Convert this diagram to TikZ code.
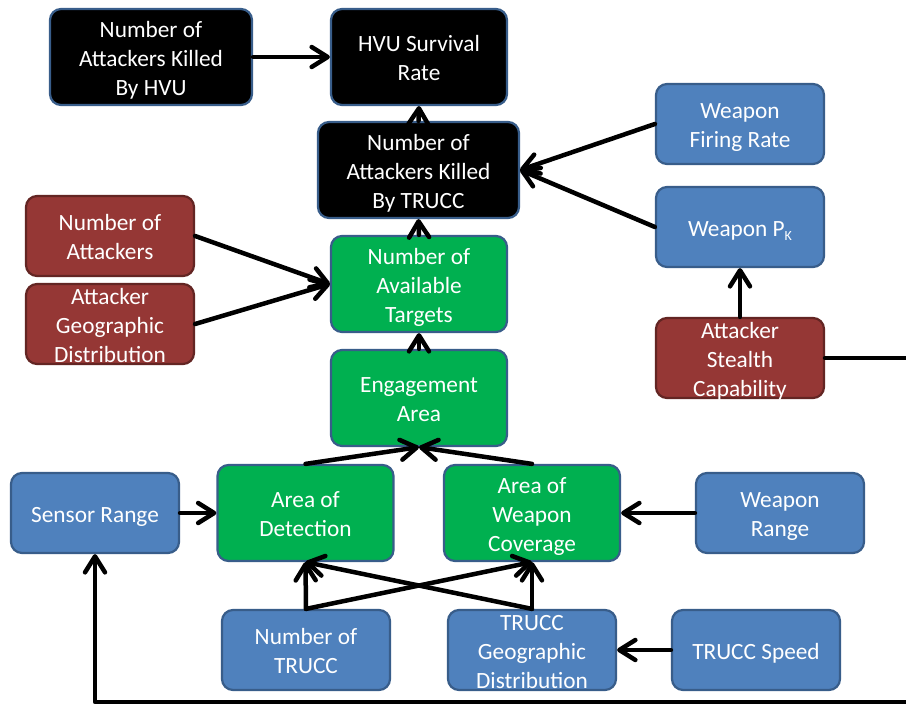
\documentclass[tikz,border=0pt]{standalone}
\usepackage{fontspec}
\setmainfont{Carlito}
\usetikzlibrary{arrows.meta}
\definecolor{boxblue}{HTML}{4F81BD}
\definecolor{edgeblue}{HTML}{385D8A}
\definecolor{boxred}{HTML}{953735}
\definecolor{edgered}{HTML}{632523}
\definecolor{boxgreen}{HTML}{00B050}
% centred text block with full-strut line spacing; it takes no room of its own,
% so every box keeps the size it is given
\newcommand\lbl[1]{\raisebox{-9.5pt}[0pt][0pt]{\begin{tabular}{@{}c@{}}#1\end{tabular}}}
\begin{document}
\begin{tikzpicture}[x=1pt,y=-1pt,
  box/.style={rounded corners=11pt, line width=2.2pt, text=white,
    inner sep=0pt, font=\fontsize{23.3}{29}\selectfont},
  bluebox/.style={box, fill=boxblue, draw=edgeblue, minimum width=168pt, minimum height=80pt},
  redbox/.style={box, fill=boxred, draw=edgered, minimum width=168pt, minimum height=80pt},
  greenbox/.style={box, fill=boxgreen, draw=edgeblue, minimum width=176pt, minimum height=96pt},
  blackbox/.style={box, fill=black, draw=edgeblue, minimum width=176pt, minimum height=96pt},
  link/.style={line width=4.5pt, line cap=round, line join=round,
    -{Straight Barb[length=16pt,width=20pt,line cap=round,line join=round]}},
]
\useasboundingbox (0,0) rectangle (906,704);
\clip (0,0) rectangle (906,704);
\fill[white] (0,0) rectangle (906,704);

% outcome measures
\node[blackbox, minimum width=202pt] (hvukill) at (151,57) {\lbl{Number of\\Attackers Killed\\By HVU}};
\node[blackbox] (survival) at (419,57) {\lbl{HVU Survival\\Rate}};
\node[blackbox, minimum width=201pt] (truckill) at (418.5,170) {\lbl{Number of\\Attackers Killed\\By TRUCC}};

% weapon properties
\node[bluebox] (firing) at (740,124) {\lbl{Weapon\\Firing Rate}};
\node[bluebox] (pk) at (740,227) {\lbl{Weapon P\raisebox{-4pt}{\fontsize{14}{14}\selectfont K}}};
\node[redbox] (stealth) at (740,358) {\lbl{Attacker\\Stealth\\Capability}};

% attacker properties
\node[redbox] (nattack) at (110,236) {\lbl{Number of\\Attackers}};
\node[redbox] (attgeo) at (110,324) {\lbl{Attacker\\Geographic\\Distribution}};

% intermediate quantities
\node[greenbox] (targets) at (419,284) {\lbl{Number of\\Available\\Targets}};
\node[greenbox] (engage) at (419,398) {\lbl{Engagement\\Area}};
\node[greenbox] (detect) at (305.5,513) {\lbl{Area of\\Detection}};
\node[greenbox] (cover) at (532,513) {\lbl{Area of\\Weapon\\Coverage}};

% TRUCC and sensor inputs
\node[bluebox] (sensor) at (95,513) {\lbl{Sensor Range}};
\node[bluebox] (wrange) at (780,513) {\lbl{Weapon\\Range}};
\node[bluebox] (ntrucc) at (306,650) {\lbl{Number of\\TRUCC}};
\node[bluebox] (trgeo) at (532,650) {\lbl{TRUCC\\Geographic\\Distribution}};
\node[bluebox] (speed) at (756,650) {\lbl{TRUCC Speed}};

% connectors
\draw[link] (hvukill.east) -- (survival.west);
\draw[link] (truckill.north) -- (survival.south);
\draw[link] (targets.north) -- (truckill.south);
\draw[link] (engage.north) -- (targets.south);
\draw[link] (firing.west) -- (truckill.east);
\draw[link] (pk.west) -- (truckill.east);
\draw[link] (stealth.north) -- (pk.south);
\draw[link] (nattack.east) -- (targets.west);
\draw[link] (attgeo.east) -- (targets.west);
\draw[link] (detect.north) -- (engage.south);
\draw[link] (cover.north) -- (engage.south);
\draw[link] (sensor.east) -- (detect.west);
\draw[link] (wrange.west) -- (cover.east);
\draw[link] (speed.west) -- (trgeo.east);
\draw[link] (ntrucc.north) -- (detect.south);
\draw[link] (ntrucc.north) -- (cover.south);
\draw[link] (trgeo.north) -- (cover.south);
\draw[link] (trgeo.north) -- (detect.south);
\coordinate (rail) at (930,702);
\draw[link] (stealth.east) -| (rail) -| (sensor.south);
\end{tikzpicture}
\end{document}
